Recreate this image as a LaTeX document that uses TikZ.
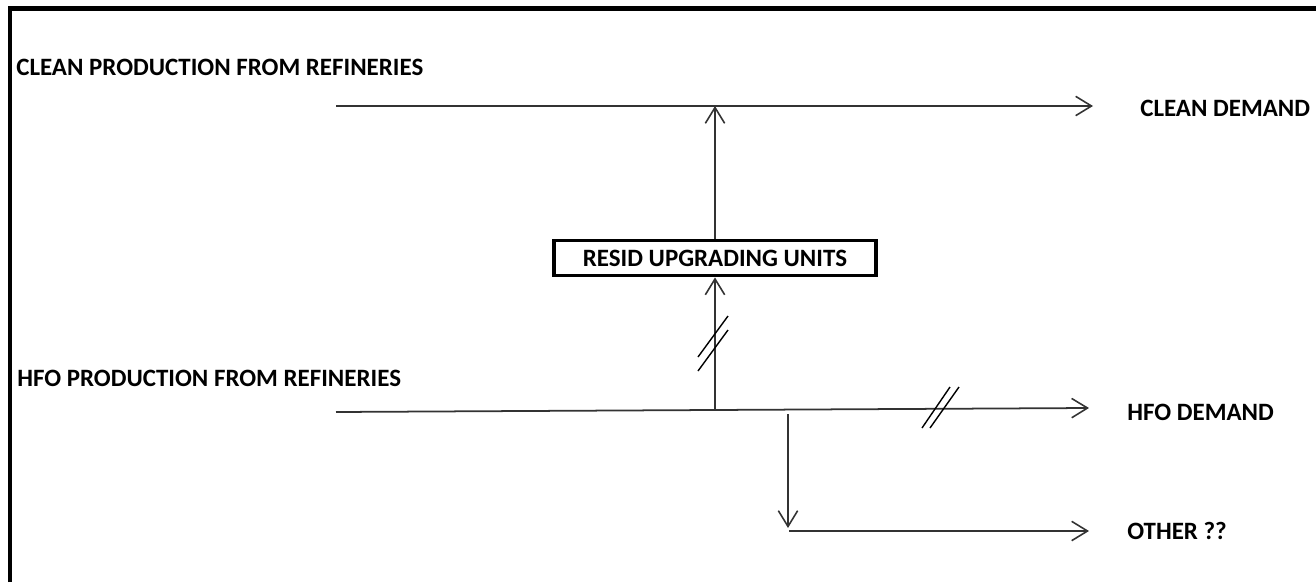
\documentclass[tikz,border=0pt]{standalone}
\usepackage{fontspec}
\setmainfont{Carlito}
\usetikzlibrary{arrows.meta}
\begin{document}
\begin{tikzpicture}[x=0.02cm,y=-0.02cm,
  lbl/.style={font=\fontsize{14.2}{17}\selectfont\bfseries, inner sep=0pt, anchor=west},
  flow/.style={draw=black!80, line width=1pt, -{Straight Barb[length=9pt,width=11pt,line width=0.9pt]}},
  brk/.style={draw=black, line width=0.8pt},
  frame/.style={draw=black, line width=2.4pt},
  unitbox/.style={draw=black, line width=2.2pt, minimum width=6.44cm, minimum height=0.7cm, inner sep=0pt,
    font=\fontsize{14.2}{17}\selectfont\bfseries}]
\useasboundingbox (0,0) rectangle (1316,582);
% frame
\coordinate (fbl) at (10,582);
\coordinate (ftl) at (10,8.5);
\coordinate (ftr) at (1316,8.5);
\draw[frame] (fbl) -- (ftl) -- (ftr);
% labels
\node[lbl] (cleanprod) at (16,67) {CLEAN PRODUCTION FROM REFINERIES};
\node[lbl] (hfoprod) at (17,378) {HFO PRODUCTION FROM REFINERIES};
\node[lbl] (cleandem) at (1140,108) {CLEAN DEMAND};
\node[lbl] (hfodem) at (1127,412) {HFO DEMAND};
\node[lbl] (other) at (1127,531) {OTHER ??};
% unit box
\node[unitbox] (resid) at (715,258) {RESID UPGRADING UNITS};
% coordinates
\coordinate (cs) at (336,106);
\coordinate (ce) at (1093,106);
\coordinate (cj) at (715,106);
\coordinate (hs) at (336,412);
\coordinate (he) at (1089,408);
\coordinate (hj) at (715,410);
\coordinate (dj) at (788,414);
\coordinate (db) at (788,528);
\coordinate (os) at (789,531);
\coordinate (oe) at (1089,531);
% flows
\draw[flow] (cs) -- (ce);
\draw[flow] (hs) -- (he);
\draw[flow] (hj) -- (resid.south);
\draw[flow] (resid.north) -- (cj);
\draw[flow] (dj) -- (db);
\draw[flow] (os) -- (oe);
% break marks
\draw[brk] (698,357) -- (728,316);
\draw[brk] (698,371) -- (728,330);
\draw[brk] (922,428) -- (950,387);
\draw[brk] (930,428) -- (959,387);
\end{tikzpicture}
\end{document}
